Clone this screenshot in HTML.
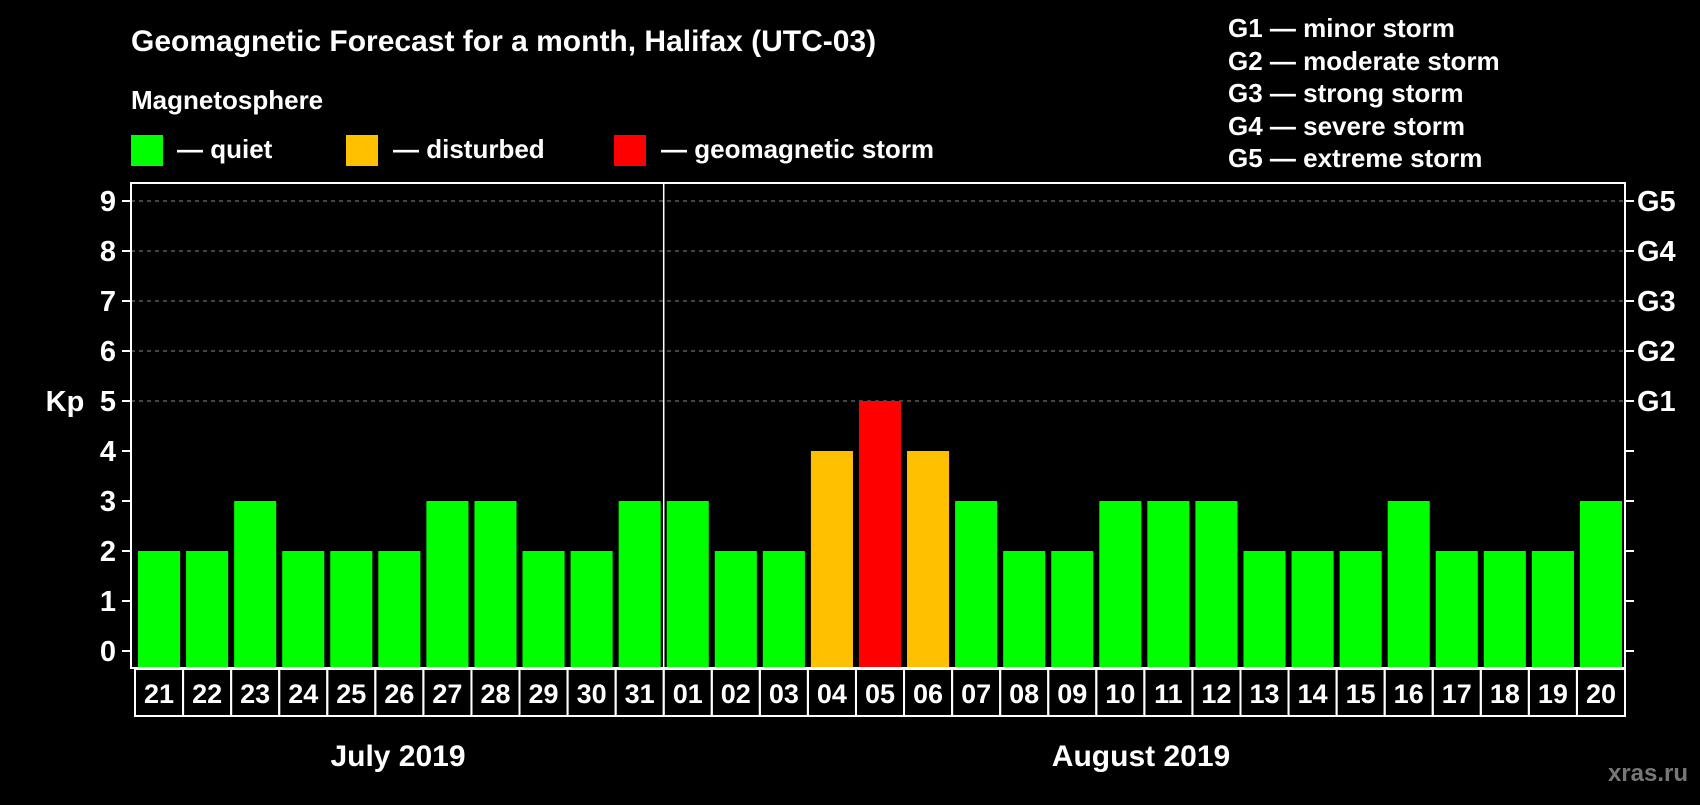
<!DOCTYPE html>
<html><head><meta charset="utf-8"><style>
body{margin:0;background:#000;width:1700px;height:800px;overflow:hidden;font-family:"Liberation Sans",Arial,sans-serif;font-weight:bold;color:#fff}
</style></head><body>
<svg width="1700" height="800" xmlns="http://www.w3.org/2000/svg" font-family="Liberation Sans, Arial, sans-serif" font-weight="bold">
<text x="131" y="51" font-size="30" fill="#fff">Geomagnetic Forecast for a month, Halifax (UTC-03)</text>
<text x="131" y="109" font-size="26" fill="#fff">Magnetosphere</text>
<g><rect x="131" y="135" width="32" height="31" fill="#00ff00"/><text x="177" y="158" font-size="26" fill="#fff">— quiet</text></g>
<g><rect x="346" y="135" width="32" height="31" fill="#ffc000"/><text x="393" y="158" font-size="26" fill="#fff">— disturbed</text></g>
<g><rect x="614" y="135" width="32" height="31" fill="#ff0000"/><text x="661" y="158" font-size="26" fill="#fff">— geomagnetic storm</text></g>
<g font-size="26" fill="#fff">
<text x="1228" y="37">G1 — minor storm</text>
<text x="1228" y="70">G2 — moderate storm</text>
<text x="1228" y="102">G3 — strong storm</text>
<text x="1228" y="135">G4 — severe storm</text>
<text x="1228" y="167">G5 — extreme storm</text>
</g>
<text x="65" y="411" font-size="29" fill="#fff" text-anchor="middle">Kp</text>
<g id="plot"></g>
<text x="398" y="766" font-size="30" fill="#fff" text-anchor="middle">July 2019</text>
<text x="1141" y="766" font-size="30" fill="#fff" text-anchor="middle">August 2019</text>
<text x="1688" y="781" font-size="24" fill="#777" text-anchor="end">xras.ru</text>
</svg>
<script>
const days=["21","22","23","24","25","26","27","28","29","30","31","01","02","03","04","05","06","07","08","09","10","11","12","13","14","15","16","17","18","19","20"];
const kp=[2,2,3,2,2,2,3,3,2,2,3,3,2,2,4,5,4,3,2,2,3,3,3,2,2,2,3,2,2,2,3];
const yTicks=[0,1,2,3,4,5,6,7,8,9];
const gLabels={5:"G1",6:"G2",7:"G3",8:"G4",9:"G5"};
const NS="http://www.w3.org/2000/svg";
const L=131,R=1625,T=183,B=668;
const y=v=>651-v*50;
const slot=(R-L-4)/days.length;
const x0=L+4;
const g=document.getElementById('plot');
function mk(t,a,p){const e=document.createElementNS(NS,t);for(const k in a)e.setAttribute(k,a[k]);(p||g).appendChild(e);return e;}
yTicks.forEach(v=>{
 if(v>=5){const l=mk('line',{x1:L,x2:R,y1:y(v),y2:y(v),stroke:'#888','stroke-dasharray':'4,4','stroke-width':1});
 
 }
 mk('line',{x1:L-9,x2:L,y1:y(v),y2:y(v),stroke:'#fff','stroke-width':2});
 mk('line',{x1:R,x2:R+9,y1:y(v),y2:y(v),stroke:'#fff','stroke-width':2});
 const t=mk('text',{x:L-15,y:y(v)+10,'font-size':29,fill:'#fff','text-anchor':'end'});t.textContent=v;
 
 
 if(gLabels[v]){const r=mk('text',{x:R+12,y:y(v)+10,'font-size':29,fill:'#fff'});r.textContent=gLabels[v];
 
 }
});
days.forEach((d,i)=>{
 const v=kp[i];const c=v>=5?'#ff0000':v>=4?'#ffc000':'#00ff00';
 const bx=x0+i*slot+3;
 const b=mk('rect',{x:bx,y:y(v),width:slot-6,height:B-y(v),fill:c});
 
 
 const cx=x0+i*slot;
 mk('rect',{x:cx,y:B+1,width:slot,height:47,fill:'none',stroke:'#fff','stroke-width':2});
 const t=mk('text',{x:cx+slot/2,y:B+35,'font-size':27,fill:'#fff','text-anchor':'middle'});t.textContent=d;
 
 
});
const fr=mk('rect',{x:L,y:T,width:R-L,height:B-T,fill:'none',stroke:'#fff','stroke-width':2});


const dv=mk('line',{x1:x0+11*slot,x2:x0+11*slot,y1:T,y2:B,stroke:'#fff','stroke-width':1.5});


</script>
</body></html>
